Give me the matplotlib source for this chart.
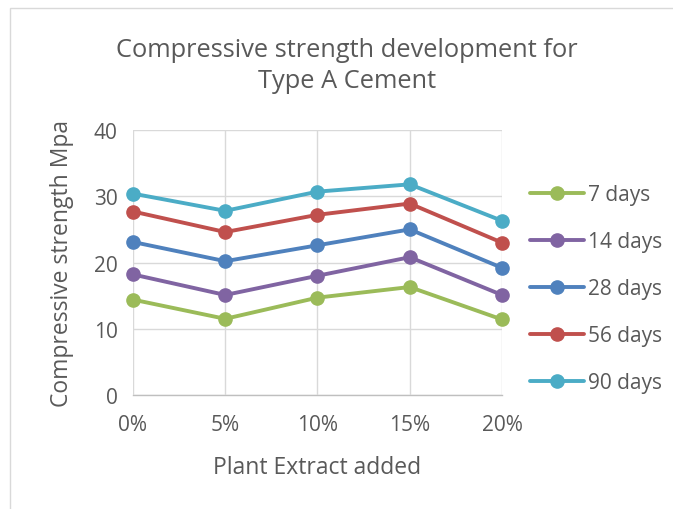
import numpy as np
import matplotlib.pyplot as plt
from matplotlib.patches import Rectangle

plt.rcParams['font.family'] = ['Open Sans', 'DejaVu Sans']

# data
categories = ['0%', '5%', '10%', '15%', '20%']
days_7 = [14.4, 11.5, 14.7, 16.3, 11.4]
days_14 = [18.2, 15.1, 18.0, 20.8, 15.1]
days_28 = [23.1, 20.2, 22.6, 25.0, 19.2]
days_56 = [27.7, 24.6, 27.2, 28.9, 23.0]
days_90 = [30.4, 27.8, 30.7, 31.8, 26.3]

series = [('7 days', days_7, '#9BBB59'),
          ('14 days', days_14, '#8064A2'),
          ('28 days', days_28, '#4F81BD'),
          ('56 days', days_56, '#C0504D'),
          ('90 days', days_90, '#4BACC6')]

txt = '#595959'

fig = plt.figure(figsize=(6.73, 5.1), dpi=100)
# chart border
fig.patches.append(Rectangle((10 / 673, -0.1), 1.0, 1 - 9 / 510 + 0.1,
                             transform=fig.transFigure, fill=False,
                             edgecolor='#D9D9D9', linewidth=1.0))

ax = fig.add_axes([0.1976, 0.2235, 0.5483, 0.5196])
x = np.arange(len(categories))
for name, vals, col in series:
    ax.plot(x, vals, color=col, linewidth=2.8, marker='o', markersize=9.5,
            label=name, solid_capstyle='round', clip_on=False)

ax.set_xlim(0, 4)
ax.set_ylim(0, 40)
ax.set_yticks([0, 10, 20, 30, 40])
ax.set_xticks(x)
ax.set_xticklabels(categories)
ax.tick_params(length=0, labelsize=15, colors=txt)
ax.tick_params(axis='x', pad=14)
ax.tick_params(axis='y', pad=11)
ax.grid(True, color='#D9D9D9', linewidth=1)
ax.set_axisbelow(True)
for s in ['top', 'right', 'left']:
    ax.spines[s].set_visible(False)
ax.spines['bottom'].set_color('#BFBFBF')
ax.spines['bottom'].set_linewidth(1)
for sp in ax.spines.values():
    sp.set_zorder(0.5)

ax.set_xlabel('Plant Extract added', fontsize=16.5, color=txt, labelpad=14)
ax.set_ylabel('Compressive strength Mpa', fontsize=16.5, color=txt, labelpad=14)

fig.text(0.516, 0.871, 'Compressive strength development for\nType A Cement',
         ha='center', va='center', fontsize=18.3, color=txt, linespacing=1.3)

leg = fig.legend(loc='upper left', bbox_to_anchor=(0.775, 0.653), frameon=False,
                 fontsize=15, handlelength=2.6, labelspacing=1.25,
                 handletextpad=0.2, borderaxespad=0)
for t in leg.get_texts():
    t.set_color(txt)

fig.savefig('out.png', dpi=100)
